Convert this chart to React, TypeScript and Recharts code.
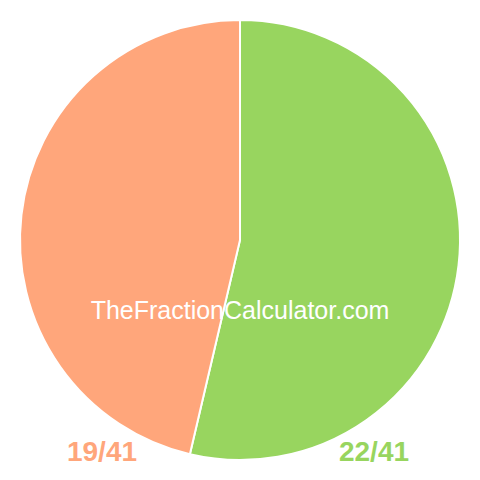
import React from "react";
import { Cell, Pie, PieChart } from "recharts";

const sliceNames = ["22/41", "19/41"];
const sliceValues = [22, 19];
const sliceColors = ["#98D55F", "#FFA67B"];
const watermark = "TheFractionCalculator.com";

const pieData = sliceNames.map((name, i) => ({ name, value: sliceValues[i] }));

const font = "Arial, 'Liberation Sans', Helvetica, sans-serif";

export default function App() {
  return (
    <div style={{ position: "absolute", left: 0, top: 0, width: 480, height: 480, background: "#fff" }}>
      <PieChart width={480} height={480} margin={{ top: 0, right: 0, bottom: 0, left: 0 }}>
        <Pie
          data={pieData}
          dataKey="value"
          nameKey="name"
          cx={240}
          cy={240}
          outerRadius={220}
          startAngle={90}
          endAngle={-270}
          stroke="#ffffff"
          strokeWidth={2}
          isAnimationActive={false}
        >
          {pieData.map((entry, index) => (
            <Cell key={`slice-${index}`} fill={sliceColors[index]} />
          ))}
        </Pie>
      </PieChart>
      <svg
        width={480}
        height={480}
        style={{ position: "absolute", left: 0, top: 0, pointerEvents: "none" }}
      >
        <text x={240} y={319} textAnchor="middle" fill="#ffffff" fontFamily={font} fontSize={25}>
          {watermark}
        </text>
        <text x={102} y={461} textAnchor="middle" fill={sliceColors[1]} fontFamily={font} fontSize={28} fontWeight="bold">
          {sliceNames[1]}
        </text>
        <text x={374} y={461} textAnchor="middle" fill={sliceColors[0]} fontFamily={font} fontSize={28} fontWeight="bold">
          {sliceNames[0]}
        </text>
      </svg>
    </div>
  );
}
